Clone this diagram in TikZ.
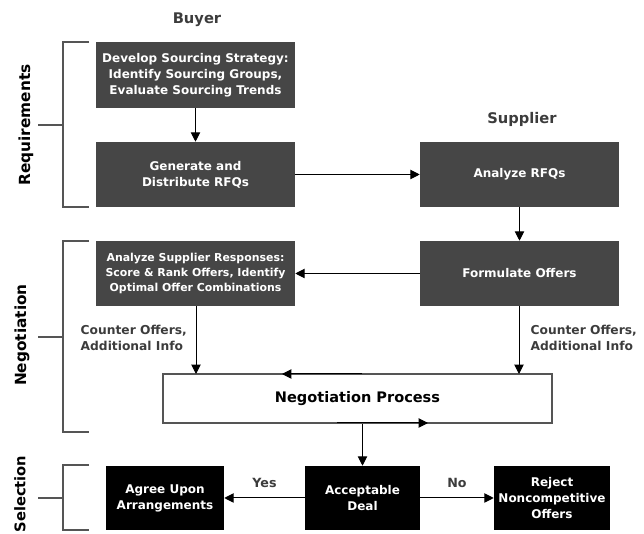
\documentclass[tikz,border=0pt]{standalone}
\usepackage{fontspec}
\setmainfont{DejaVu Sans}
\usetikzlibrary{arrows.meta}
\definecolor{boxgray}{HTML}{464646}
\definecolor{linegray}{HTML}{555555}
\definecolor{labgray}{HTML}{3C3C3C}
\begin{document}
\begin{tikzpicture}[x=0.75pt,y=-0.75pt,
  darkbox/.style={fill=boxgray,draw=none,text=white,font=\bfseries\fontsize{9}{12}\selectfont,align=center,inner sep=0pt},
  blackbox/.style={fill=black,draw=none,text=white,font=\bfseries\fontsize{9}{12}\selectfont,align=center,inner sep=0pt},
  conn/.style={draw=black,line width=0.75pt,-{Triangle[length=7pt,width=7pt]}},
  brk/.style={draw=linegray,line width=0.9pt},
  head/.style={text=labgray,font=\bfseries\fontsize{11}{13}\selectfont},
  side/.style={text=black,font=\bfseries\fontsize{11.5}{13}\selectfont,rotate=90},
  clabel/.style={text=labgray,font=\bfseries\fontsize{9.2}{12}\selectfont,align=left},
  ylabel/.style={text=labgray,font=\bfseries\fontsize{9.5}{11}\selectfont}]
\useasboundingbox (0,0) rectangle (644,534);
% boxes
\node[darkbox,minimum width=149.25pt,minimum height=49.5pt] (dev) at (195.5,75) {Develop Sourcing Strategy:\\Identify Sourcing Groups,\\Evaluate Sourcing Trends};
\node[darkbox,minimum width=149.25pt,minimum height=48.75pt] (gen) at (195.5,174.5) {Generate and\\Distribute RFQs};
\node[darkbox,minimum width=149.25pt,minimum height=48.75pt] (ana) at (519.5,174.5) {Analyze RFQs};
\node[darkbox,minimum width=149.25pt,minimum height=48.75pt] (form) at (519.5,273.5) {Formulate Offers};
\node[darkbox,minimum width=149.25pt,minimum height=48.75pt,font=\bfseries\fontsize{8.2}{11.25}\selectfont] (resp) at (195.5,273.5) {Analyze Supplier Responses:\\Score \& Rank Offers, Identify\\Optimal Offer Combinations};
\node[draw=linegray,line width=0.8pt,fill=white,minimum width=291.75pt,minimum height=36.75pt,inner sep=0pt,font=\bfseries\fontsize{10.9}{13}\selectfont] (neg) at (357.5,398.5) {Negotiation Process};
\node[blackbox,minimum width=88.5pt,minimum height=48pt] (agree) at (165,498) {Agree Upon\\Arrangements};
\node[blackbox,minimum width=86.25pt,minimum height=48pt] (acc) at (362.5,498) {Acceptable\\Deal};
\node[blackbox,minimum width=87pt,minimum height=48pt] (rej) at (552,498) {Reject\\Noncompetitive\\Offers};
% headers
\node[head] (buyer) at (197,20) {Buyer};
\node[head] (supp) at (522,119) {Supplier};
% connectors
\draw[conn] (dev.south) -- (gen.north);
\draw[conn] (gen.east) -- (ana.west);
\draw[conn] (ana.south) -- (form.north);
\draw[conn] (form.west) -- (resp.east);
\coordinate (nl) at (196,374);
\coordinate (nr) at (519,374);
\draw[conn] (resp.south -| nl) -- (nl);
\draw[conn] (form.south -| nr) -- (nr);
\coordinate (t1) at (362,374);
\coordinate (t2) at (282,374);
\draw[conn] (t1) -- (t2);
\coordinate (b1) at (337,423);
\coordinate (b2) at (428,423);
\draw[conn] (b1) -- (b2);
\draw[conn] (neg.south -| acc.north) -- (acc.north);
\draw[conn] (acc.west) -- node[ylabel,above=4pt] (yes) {Yes} (agree.east);
\draw[conn] (acc.east) -- node[ylabel,above=4pt] (no) {No} (rej.west);
% counter labels
\node[clabel,anchor=west] (cl) at (76,338) {Counter Offers,\\Additional Info};
\node[clabel,anchor=west] (cr) at (526,338) {Counter Offers,\\Additional Info};
% brackets
\draw[brk] (89,42) -- (63,42) -- (63,207) -- (89,207);
\draw[brk] (38,125) -- (63,125);
\draw[brk] (89,241) -- (63,241) -- (63,432) -- (89,432);
\draw[brk] (38,337) -- (63,337);
\draw[brk] (89,465) -- (63,465) -- (63,530) -- (89,530);
\draw[brk] (38,498) -- (63,498);
\node[side] (lreq) at (26,125) {Requirements};
\node[side] (lneg) at (22,335) {Negotiation};
\node[side,font=\bfseries\fontsize{11}{13}\selectfont] (lsel) at (20,494) {Selection};
\end{tikzpicture}
\end{document}
